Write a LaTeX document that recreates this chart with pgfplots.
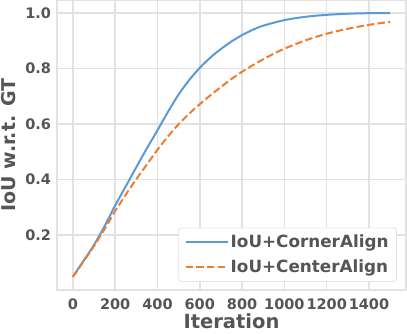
\documentclass[border=0pt]{standalone}
\usepackage{fontspec}
\setmainfont{DejaVu Sans}
\usepackage{pgfplots}
\pgfplotsset{compat=1.18}

\definecolor{txt}{RGB}{85,85,85}
\definecolor{gridc}{RGB}{226,226,226}
\definecolor{cblue}{RGB}{91,155,213}
\definecolor{corange}{RGB}{237,125,49}

\begin{document}
\begin{tikzpicture}
\useasboundingbox (-57pt,-43pt) rectangle (350pt,290pt);
\begin{axis}[
  at={(0,0)}, anchor=south west,
  scale only axis,
  width=349pt, height=290pt,
  xmin=-75, xmax=1575,
  ymin=0.0025, ymax=1.0475,
  xtick={0,200,...,1400},
  ytick={0.2,0.4,...,1.0},
  xticklabel style={/pgf/number format/1000 sep={}},
  yticklabel style={/pgf/number format/fixed, /pgf/number format/fixed zerofill,
    /pgf/number format/precision=1},
  /pgf/number format/assume math mode=true,
  major tick length=0pt,
  grid=major,
  grid style={gridc, line width=1.5pt},
  axis line style={gridc, line width=1.5pt},
  ticklabel style={font=\bfseries\fontsize{14.5}{14.5}\selectfont, text=txt},
  xticklabel style={yshift=-5.5pt},
  yticklabel style={xshift=-2.5pt},
  xlabel={Iteration},
  ylabel={IoU w.r.t. GT},
  every axis x label/.style={at={(axis description cs:0.5,0)}, anchor=base, yshift=-38.3pt,
    font=\bfseries\fontsize{19.5}{19.5}\selectfont, text=txt},
  every axis y label/.style={at={(axis description cs:0,0.5)}, xshift=-48pt, rotate=90, anchor=center,
    font=\bfseries\fontsize{19}{19}\selectfont, text=txt},
  legend style={at={(0.974,0.028)}, anchor=south east, draw=gridc, line width=0.8pt,
    rounded corners=3pt, fill=white, text=txt,
    font=\bfseries\fontsize{16.8}{16.8}\selectfont,
    row sep=7pt, inner xsep=6pt, inner ysep=5pt},
  legend cell align=left,
  legend image code/.code={\draw[#1, line width=2pt] (0pt,0pt) -- (35pt,0pt);
    \path (0pt,0pt) -- (42pt,0pt);},
]
\addplot[cblue, line width=2pt, smooth] coordinates {
  (0,0.05) (50,0.107) (100,0.165) (150,0.233) (200,0.307) (250,0.376)
  (300,0.445) (350,0.513) (400,0.578) (450,0.645) (500,0.707) (550,0.759)
  (600,0.803) (650,0.840) (700,0.871) (750,0.898) (800,0.921) (850,0.940)
  (900,0.955) (1000,0.975) (1100,0.987) (1200,0.994) (1300,0.998)
  (1400,1.0) (1500,1.0)};
\addlegendentry{IoU+CornerAlign}
\addplot[corange, line width=2pt, smooth, dash pattern=on 7.4pt off 3.2pt] coordinates {
  (0,0.05) (50,0.105) (100,0.161) (150,0.222) (200,0.287) (250,0.346)
  (300,0.402) (350,0.455) (400,0.508) (450,0.556) (500,0.600) (550,0.638)
  (600,0.672) (650,0.704) (700,0.734) (750,0.763) (800,0.789) (850,0.812)
  (900,0.834) (950,0.854) (1000,0.872) (1100,0.902) (1200,0.926)
  (1300,0.944) (1400,0.958) (1500,0.969)};
\addlegendentry{IoU+CenterAlign}
\end{axis}
\end{tikzpicture}
\end{document}
